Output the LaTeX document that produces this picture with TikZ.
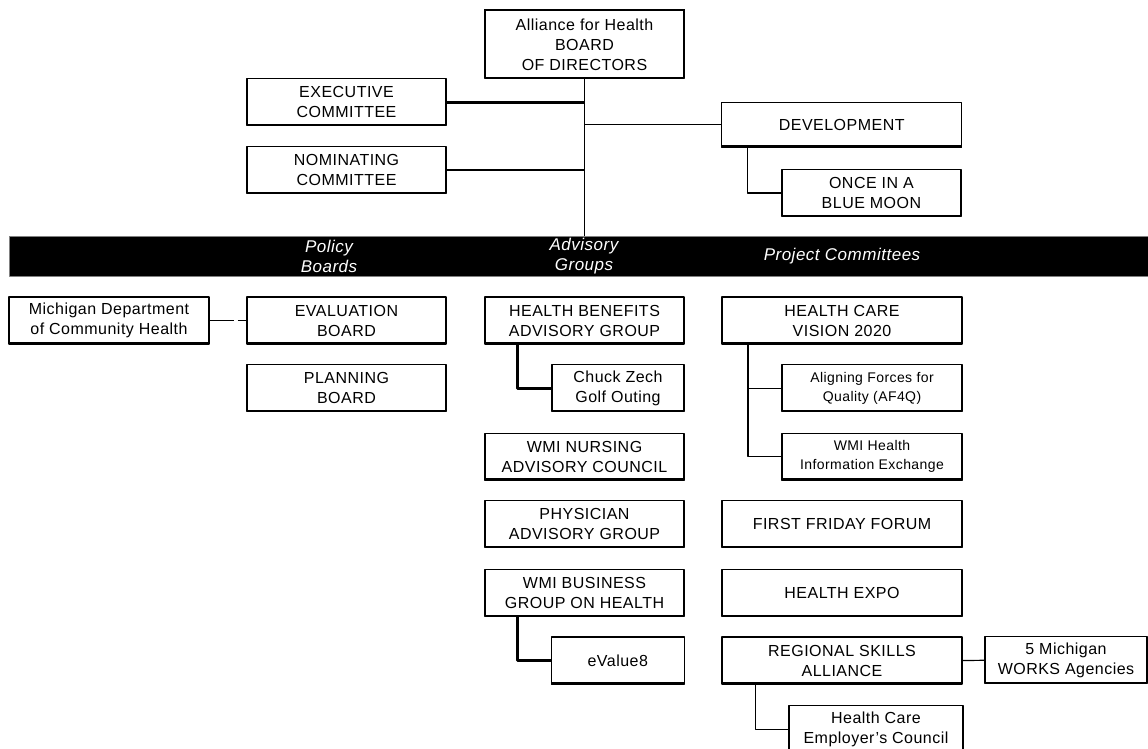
\documentclass[tikz,border=0pt]{standalone}
\usepackage{fontspec}
\setmainfont{Liberation Sans}[LetterSpace=3]
\begin{document}
\begin{tikzpicture}[x=1pt,y=-1pt,line join=round,
  box/.style={draw,line width=1.2pt,inner sep=0pt,align=center,minimum width=199pt,minimum height=47pt,
    font=\fontsize{16}{20}\selectfont,
    path picture={\draw[line width=4pt] (path picture bounding box.south west)--(path picture bounding box.south east);}},
  wide/.style={box,minimum width=240pt},
  sub/.style={box,minimum width=180pt},
  small/.style={font=\fontsize{14}{19}\selectfont},
  lnk/.style={line width=1.2pt},
  hvy/.style={line width=2.8pt},
  bartxt/.style={text=white,inner sep=0pt,align=center,font=\fontsize{17}{20}\selectfont\itshape}]
\useasboundingbox (0,0) rectangle (1148,749);
% board and committees
\node[box,minimum height=68pt] (board) at (584.5,44.9) {Alliance for Health\\BOARD\\OF DIRECTORS};
\draw[line width=2.4pt] (board.north west) -- (board.north east);
\node[box] (exec) at (346.5,102.4) {EXECUTIVE\\COMMITTEE};
\node[box] (nomin) at (346.5,170) {NOMINATING\\COMMITTEE};
\node[wide,minimum height=45pt] (devel) at (841.7,124.8) {DEVELOPMENT};
\node[sub,minimum width=179pt] (moon) at (871.4,193) {ONCE IN A\\BLUE MOON};
% black bar
\node[fill=black,draw=gray,line width=0.5pt,inner sep=0pt,minimum width=1139pt,minimum height=40pt] (bar) at (578.5,256) {};
\node[bartxt] (policy) at (329,256) {Policy\\Boards};
\node[bartxt] (advisory) at (584,256) {Advisory\\Groups};
\node[bartxt] (project) at (842,256) {Project Committees};
% policy boards
\node[box,minimum width=200pt] (mdch) at (109,320.5) {Michigan Department\\of Community Health};
\node[box] (evalb) at (346.5,320.5) {EVALUATION\\BOARD};
\node[box] (planb) at (346.5,388) {PLANNING\\BOARD};
% advisory groups
\node[box] (hbag) at (584.5,320.5) {HEALTH BENEFITS\\ADVISORY GROUP};
\node[box,minimum width=132pt] (chuck) at (618,388.3) {Chuck Zech\\Golf Outing};
\node[box] (nursing) at (584.5,456.7) {WMI NURSING\\ADVISORY COUNCIL};
\node[box] (physician) at (584.5,524) {PHYSICIAN\\ADVISORY GROUP};
\node[box] (business) at (584.5,593) {WMI BUSINESS\\GROUP ON HEALTH};
\node[box,minimum width=133pt] (evalue) at (617.8,660.5) {eValue8};
% project committees
\node[wide] (vision) at (842,320.5) {HEALTH CARE\\VISION 2020};
\node[sub,small] (af4q) at (872,388.3) {Aligning Forces for\\Quality (AF4Q)};
\node[sub,small] (hie) at (872,456.7) {WMI Health\\Information Exchange};
\node[wide] (fff) at (842,524) {FIRST FRIDAY FORUM};
\node[wide] (expo) at (842,593) {HEALTH EXPO};
\node[wide] (rsa) at (842,660.5) {REGIONAL SKILLS\\ALLIANCE};
\node[box,minimum width=162pt] (works) at (1066,660.3) {5 Michigan\\WORKS Agencies};
\node[box,minimum width=174pt] (employer) at (876,729.3) {Health Care\\Employer’s Council};
% connectors
\draw[lnk] (board.south) -- (board.south |- bar.north);
\draw[hvy] (exec.east) -- (exec.east -| board.south);
\draw[hvy] (nomin.east) -- (nomin.east -| board.south);
\draw[lnk] (devel.west) -- (devel.west -| board.south);
\draw[lnk] ([xshift=26pt]devel.south west) |- (moon.west);
\draw[lnk,dash pattern=on 24pt off 4pt on 20pt] (mdch.east) -- (evalb.west);
\draw[hvy] ([xshift=33pt]hbag.south west) |- (chuck.west);
\draw[hvy] ([xshift=33pt]business.south west) |- (evalue.west);
\draw[lnk] ([xshift=26.5pt]vision.south west) |- (af4q.west);
\draw[lnk] ([xshift=26.5pt]vision.south west) |- (hie.west);
\draw[lnk] (rsa.east) -- (works.west);
\draw[lnk] ([xshift=34pt]rsa.south west) |- (employer.west);
\end{tikzpicture}
\end{document}
